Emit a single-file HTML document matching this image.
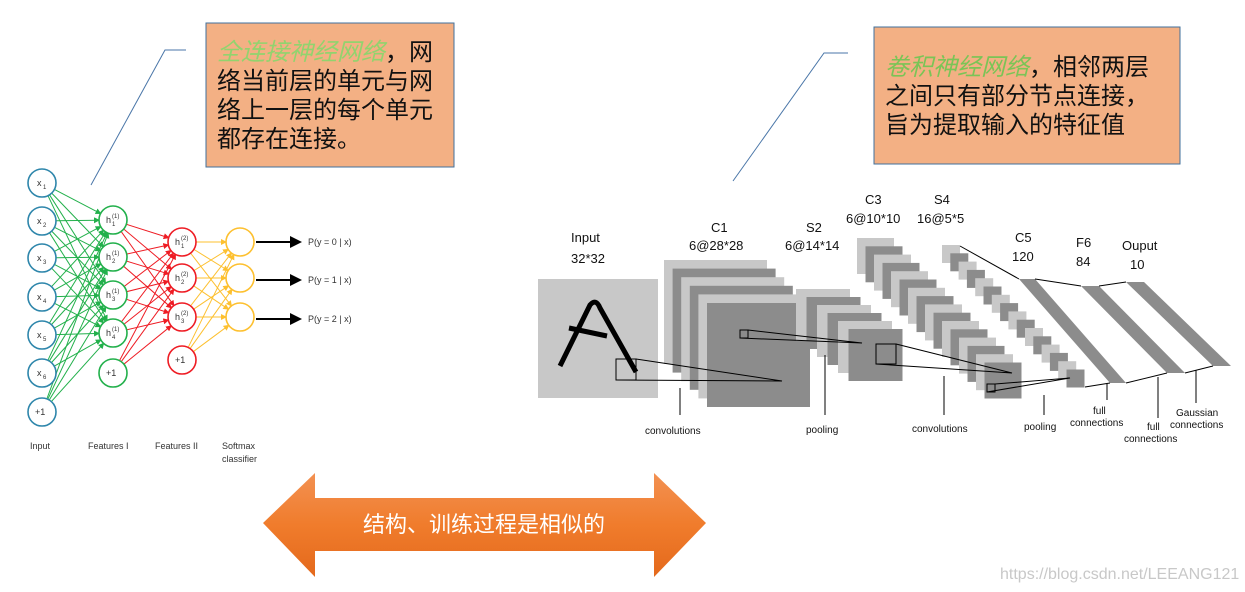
<!DOCTYPE html>
<html><head><meta charset="utf-8"><style>
html,body{margin:0;padding:0;background:#fff;}
svg{display:block;font-family:"Liberation Sans","Noto Sans CJK SC",sans-serif;}
</style></head><body>
<svg id="s" width="1245" height="592" viewBox="0 0 1245 592" xmlns="http://www.w3.org/2000/svg">
<defs>
<marker id="ag" markerWidth="6" markerHeight="6" refX="5" refY="3" orient="auto"><path d="M0,0L6,3L0,6z" fill="#22b04b"/></marker>
<marker id="ar" markerWidth="6" markerHeight="6" refX="5" refY="3" orient="auto"><path d="M0,0L6,3L0,6z" fill="#ee1c24"/></marker>
<marker id="ay" markerWidth="6" markerHeight="6" refX="5" refY="3" orient="auto"><path d="M0,0L6,3L0,6z" fill="#fdc02f"/></marker>
<marker id="ak" markerWidth="6" markerHeight="6" refX="5" refY="3" orient="auto"><path d="M0,0L6,3L0,6z" fill="#000"/></marker>
<linearGradient id="og" x1="0" y1="0" x2="0" y2="1"><stop offset="0" stop-color="#f39152"/><stop offset="0.5" stop-color="#f07c2c"/><stop offset="1" stop-color="#e4691c"/></linearGradient>
</defs>
<g id="edges"></g>
<g id="nodes"></g>
<polyline points="186,50 165,50 91,185" fill="none" stroke="#4a76a8" stroke-width="1"/>
<rect x="206" y="23" width="248" height="144" fill="#f3b084" stroke="#41719c" stroke-width="1"/>
<g font-size="24" fill="#111">
<text x="217" y="60"><tspan fill="#92d36e" font-style="italic">全连接神经网络</tspan>，网</text>
<text x="217" y="89">络当前层的单元与网</text>
<text x="217" y="118">络上一层的每个单元</text>
<text x="217" y="147">都存在连接。</text>
</g>
<polyline points="848,53 824,53 733,181" fill="none" stroke="#4a76a8" stroke-width="1"/>
<rect x="874" y="27" width="306" height="137" fill="#f3b084" stroke="#41719c" stroke-width="1"/>
<g font-size="24" fill="#111">
<text x="885" y="75"><tspan fill="#7bc456" font-style="italic">卷积神经网络</tspan>，相邻两层</text>
<text x="885" y="104">之间只有部分节点连接，</text>
<text x="885" y="133">旨为提取输入的特征值</text>
</g>
<polygon points="263,523 315,473 315,498 654,498 654,473 706,523 654,577 654,551 315,551 315,577" fill="url(#og)"/>
<text x="484" y="532" font-size="22" fill="#fff" text-anchor="middle">结构、训练过程是相似的</text>
<text x="1000" y="579" font-size="16" fill="#c8c8c8">https://blog.csdn.net/LEEANG121</text>
<g font-size="9" fill="#333">
<text x="30" y="449">Input</text><text x="88" y="449">Features I</text><text x="155" y="449">Features II</text>
<text x="222" y="449">Softmax</text><text x="222" y="462">classifier</text>
<text x="308" y="245">P(y = 0 | x)</text><text x="308" y="283">P(y = 1 | x)</text><text x="308" y="322">P(y = 2 | x)</text>
</g>
<g stroke="#000" stroke-width="2" marker-end="url(#ak)">
<line x1="256" y1="242" x2="300" y2="242"/><line x1="256" y1="280" x2="300" y2="280"/><line x1="256" y1="319" x2="300" y2="319"/>
</g>
<g id="cnn"></g>
<g font-size="13" fill="#111">
<text x="571" y="242">Input</text><text x="571" y="263">32*32</text>
<text x="711" y="232">C1</text><text x="689" y="250">6@28*28</text>
<text x="806" y="232">S2</text><text x="785" y="250">6@14*14</text>
<text x="865" y="204">C3</text><text x="846" y="223">6@10*10</text>
<text x="934" y="204">S4</text><text x="917" y="223">16@5*5</text>
<text x="1015" y="242">C5</text><text x="1012" y="261">120</text>
<text x="1076" y="247">F6</text><text x="1076" y="266">84</text>
<text x="1122" y="250">Ouput</text><text x="1130" y="269">10</text>
</g>
<g font-size="10" fill="#111">
<text x="645" y="434">convolutions</text><text x="806" y="433">pooling</text><text x="912" y="432">convolutions</text>
<text x="1024" y="430">pooling</text>
<text x="1093" y="414">full</text><text x="1070" y="426">connections</text>
<text x="1147" y="430">full</text><text x="1124" y="442">connections</text>
<text x="1176" y="416">Gaussian</text><text x="1170" y="428">connections</text>
</g>
</svg>
<script>
var NS="http://www.w3.org/2000/svg";
function el(p,t,a){var e=document.createElementNS(NS,t);for(var k in a)e.setAttribute(k,a[k]);p.appendChild(e);return e;}
var E=document.getElementById('edges'),N=document.getElementById('nodes'),C=document.getElementById('cnn');
var r=14;
var L0=[183,221,258,297,335,373,412].map(function(y){return[42,y]});
var L1=[220,257,295,333,373].map(function(y){return[113,y]});
var L2=[242,278,317,360].map(function(y){return[182,y]});
var L3=[242,278,317].map(function(y){return[240,y]});
function conn(A,B,col,m){A.forEach(function(a){B.forEach(function(b){var dx=b[0]-a[0],dy=b[1]-a[1],d=Math.hypot(dx,dy);
el(E,'line',{x1:a[0]+dx/d*r,y1:a[1]+dy/d*r,x2:b[0]-dx/d*r,y2:b[1]-dy/d*r,stroke:col,'stroke-width':1,'marker-end':'url(#'+m+')'});});});}
conn(L0,L1.slice(0,4),'#22b04b','ag');conn(L1,L2.slice(0,3),'#ee1c24','ar');conn(L2,L3,'#fdc02f','ay');
function nodes(L,col){L.forEach(function(p){el(N,'circle',{cx:p[0],cy:p[1],r:r,fill:'#fff',stroke:col,'stroke-width':1.6});});}
nodes(L0,'#2e86ab');nodes(L1,'#22b04b');nodes(L2,'#ee1c24');nodes(L3,'#fdc02f');
function lab(x,y,t,sup,sub){var g=el(N,'text',{x:x-5,y:y+3,'font-size':9,fill:'#333'});g.textContent=t;
if(sub){var s=el(N,'text',{x:x+1,y:y+6,'font-size':6,fill:'#333'});s.textContent=sub;}
if(sup){var s2=el(N,'text',{x:x+1,y:y-2,'font-size':6,fill:'#333'});s2.textContent=sup;}}
for(var i=0;i<6;i++)lab(42,L0[i][1],'x',null,String(i+1));
el(N,'text',{x:35,y:415,'font-size':9,fill:'#333'}).textContent='+1';
for(i=0;i<4;i++)lab(111,L1[i][1],'h','(1)',String(i+1));
el(N,'text',{x:106,y:376,'font-size':9,fill:'#333'}).textContent='+1';
for(i=0;i<3;i++)lab(180,L2[i][1],'h','(2)',String(i+1));
el(N,'text',{x:175,y:363,'font-size':9,fill:'#333'}).textContent='+1';
var LG='#c8c8c8',DG='#8c8c8c';
el(C,'rect',{x:538,y:279,width:120,height:119,fill:LG});
function stack(x0,y0,n,dx,dy,w,h,lightFirst){for(var i=0;i<n;i++){var light=(i%2==0)==lightFirst;
el(C,'rect',{x:x0+dx*i,y:y0+dy*i,width:w,height:h,fill:light?LG:DG});}}
stack(664,260,6,8.6,8.6,103,104,true);
stack(796,289,6,10.5,8,54,52,true);
stack(857,238,16,8.5,8.3,37,36,true);
stack(942,245,16,8.3,8.3,18,18,true);
el(C,'path',{d:'M560,366 L590,305 Q596,298 600,308 L636,372',fill:'none',stroke:'#000','stroke-width':5});
el(C,'line',{x1:569,y1:328,x2:607,y2:336,stroke:'#000','stroke-width':5});
function sq(x,y,w,h){el(C,'rect',{x:x,y:y,width:w,height:h,fill:'none',stroke:'#000','stroke-width':1});}
function tri(a,b,c){el(C,'polyline',{points:a+' '+b+' '+c,fill:'none',stroke:'#000','stroke-width':1});}
sq(616,359,20,21);tri('636,359','782,381','616,380');
sq(740,330,8,8);tri('748,330','862,343','740,338');
sq(876,344,20,20);tri('896,344','1012,373','876,364');
sq(987,384,8,8);tri('995,384','1070,378','987,392');
el(C,'polygon',{points:'1019,279 1035,279 1126,383 1110,383',fill:'#8c8c8c'});
el(C,'polygon',{points:'1081,286 1099,286 1185,373 1167,373',fill:'#8c8c8c'});
el(C,'polygon',{points:'1126,282 1144,282 1231,366 1213,366',fill:'#8c8c8c'});
function ln(a,b,c,d){el(C,'line',{x1:a,y1:b,x2:c,y2:d,stroke:'#000','stroke-width':1});}
ln(960,246,1019,279);ln(1035,279,1081,286);ln(1099,286,1126,282);
ln(1085,387,1110,383);ln(1126,383,1167,373);ln(1185,373,1213,366);
ln(680,388,680,415);ln(825,355,825,415);ln(944,376,944,415);ln(1044,395,1044,415);
ln(1107,383,1107,400);ln(1158,377,1158,418);ln(1196,370,1196,403);
</script>
</body></html>
